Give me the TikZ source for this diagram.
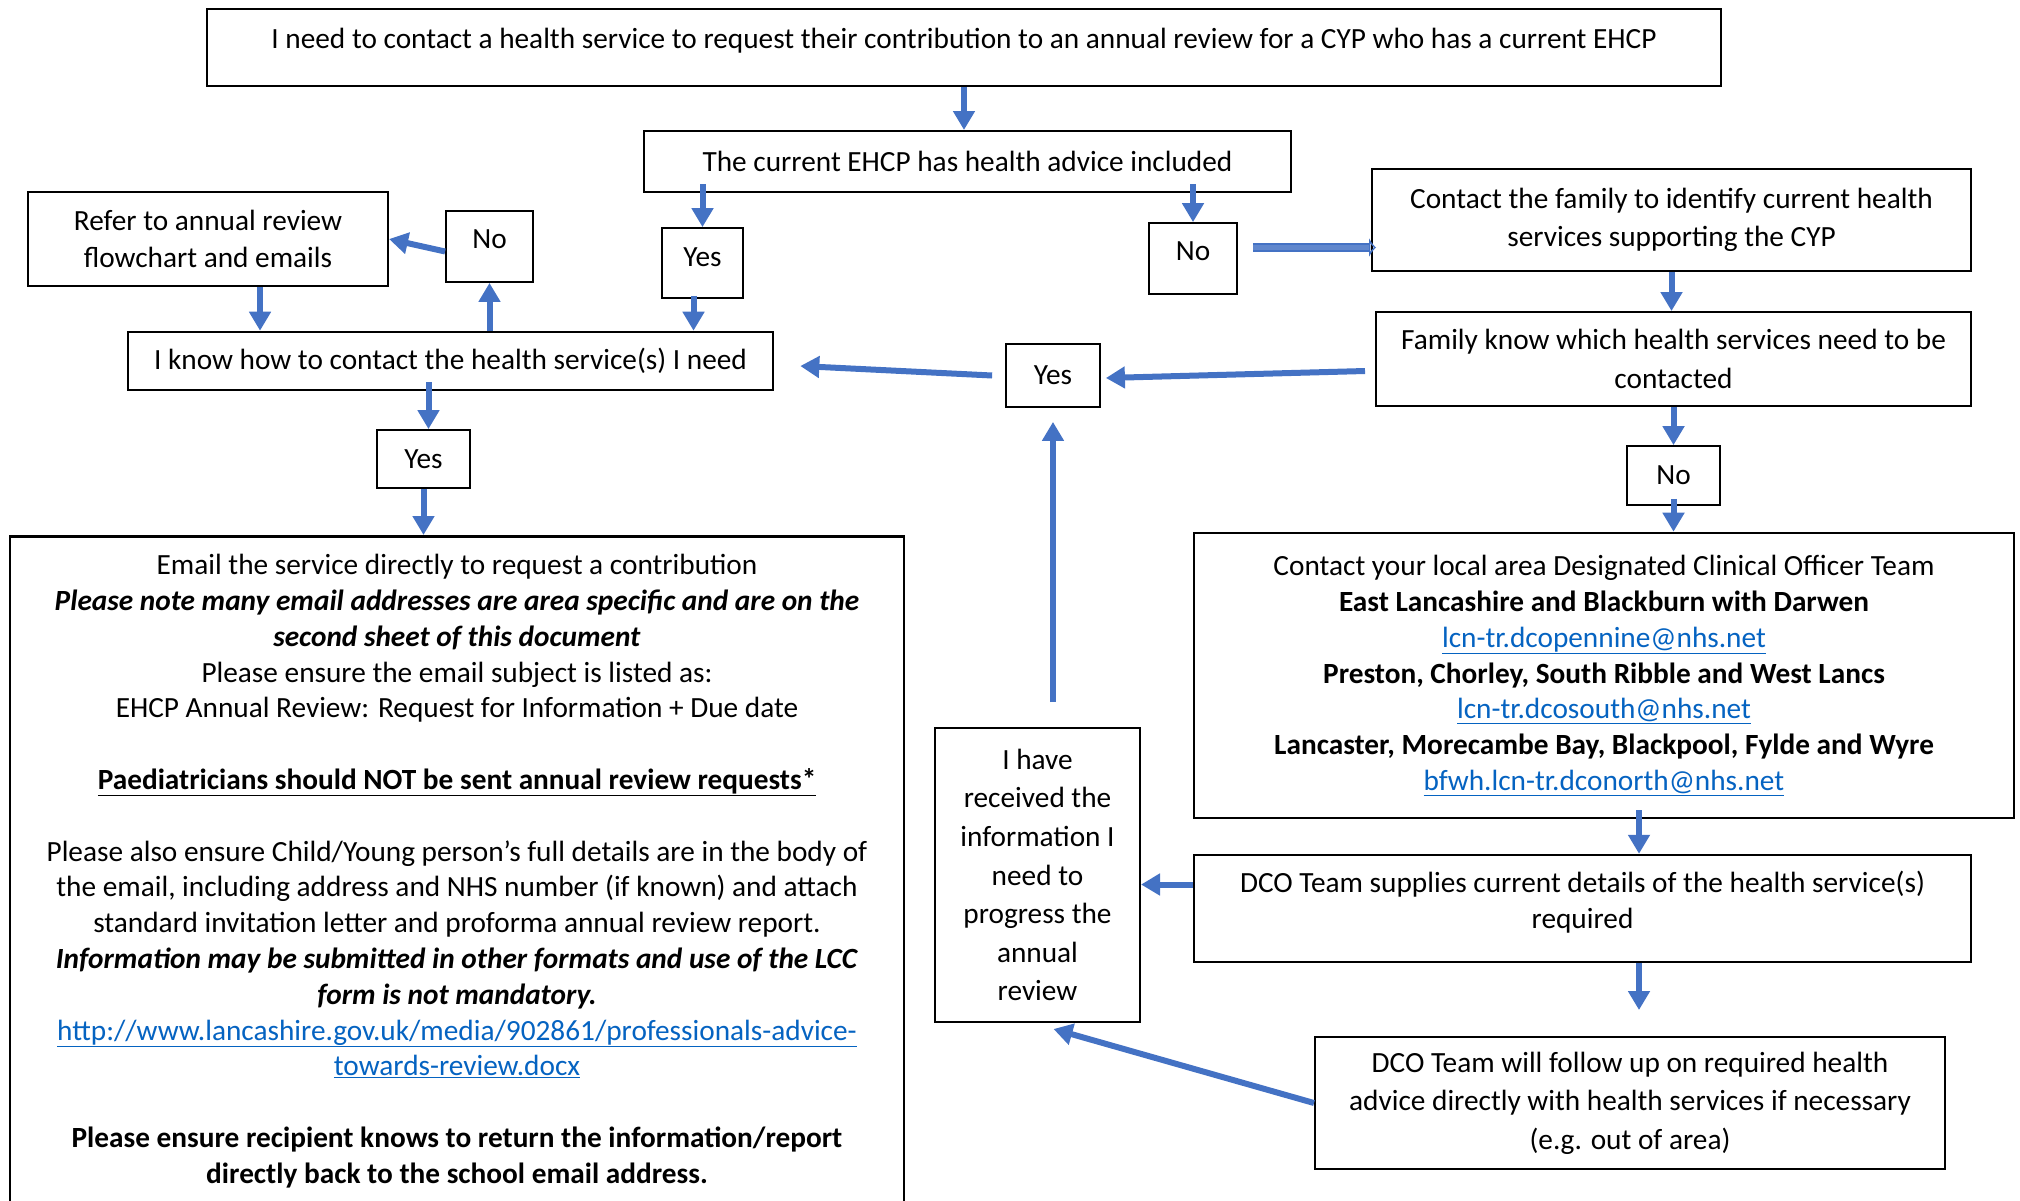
\documentclass[tikz,border=0pt]{standalone}
\usepackage{fontspec}
\setmainfont{Carlito}
\usepackage{tikz}
\usetikzlibrary{arrows.meta, positioning, shapes}
\definecolor{arrowblue}{HTML}{4472C4}
\definecolor{linkblue}{HTML}{0563C1}
\newcommand{\weblink}[1]{\textcolor{linkblue}{\underline{#1}}}
\tikzstyle{box} = [rectangle, draw=black, line width=2pt, align=center, inner sep=0pt, font=\fontsize{29.3}{35.8}\selectfont]
\tikzstyle{tallbox} = [box, font=\fontsize{29.3}{38.6}\selectfont]
\tikzstyle{answer} = [box, line width=1.8pt]
\tikzstyle{arrow} = [line width=6pt, draw=arrowblue, -{Triangle[width=21pt,length=19pt]}]
\tikzstyle{dblarrow} = [line width=1.6pt, draw=arrowblue, double=arrowblue!85!white, double distance=5.5pt, -{Latex[open,length=7pt,width=20pt]}, shorten >=10pt]

\begin{document}
\begin{tikzpicture}[x=1pt, y=-1pt]
	\useasboundingbox (0,0) rectangle (2020,1200);
	\node (top) [box, minimum width=1514pt, minimum height=77pt, text depth=19pt] at (964,47.5) {I need to contact a health service to request their contribution to an annual review for a CYP who has a current EHCP};
	\node (ehcp) [box, minimum width=647pt, minimum height=61pt] at (967.5,161.5) {The current EHCP has health advice included};
	\node (refer) [tallbox, font=\fontsize{29.3}{37}\selectfont, minimum width=360pt, minimum height=94pt] at (208,239) {Refer to annual review\\flowchart and emails};
	\node (no1) [answer, minimum width=87pt, minimum height=71pt, text depth=14pt] at (489.5,246.5) {No};
	\node (yes1) [answer, minimum width=81pt, minimum height=70pt, text depth=12pt] at (702.5,263) {Yes};
	\node (no2) [answer, minimum width=88pt, minimum height=71pt, text depth=14pt] at (1193,258.5) {No};
	\node (family) [tallbox, font=\fontsize{29.3}{37.5}\selectfont, minimum width=599pt, minimum height=102pt] at (1671.5,220) {Contact the family to identify current health\\services supporting the CYP};
	\node (know) [box, line width=2.6pt, minimum width=645pt, minimum height=58pt] at (450.5,361) {I know how to contact the health service(s) I need};
	\node (yes2) [answer, minimum width=94pt, minimum height=63pt] at (1053,375.5) {Yes};
	\node (fknow) [tallbox, minimum width=595pt, minimum height=94pt] at (1673.5,359) {Family know which health services need to be\\contacted};
	\node (yes3) [answer, minimum width=93pt, minimum height=58pt] at (423.5,459) {Yes};
	\node (no3) [answer, minimum width=93pt, minimum height=59pt] at (1673.5,475.5) {No};
	\node (email) [box, line width=2.6pt, anchor=north, minimum width=894pt, inner ysep=18pt] at (457,535) {Email the service directly to request a contribution\\
		\textbf{\textit{Please note many email addresses are area specific and are on the}}\\
		\textbf{\textit{second sheet of this document}}\\
		Please ensure the email subject is listed as:\\
		EHCP Annual Review: Request for Information + Due date\\[35.8pt]
		\textbf{\underline{Paediatricians should NOT be sent annual review requests*}}\\[35.8pt]
		Please also ensure Child/Young person’s full details are in the body of\\
		the email, including address and NHS number (if known) and attach\\
		standard invitation letter and proforma annual review report.\\
		\textbf{\textit{Information may be submitted in other formats and use of the LCC}}\\
		\textbf{\textit{form is not mandatory.}}\\
		\weblink{http://www.lancashire.gov.uk/media/902861/professionals-advice-}\\
		\weblink{towards-review.docx}\\[35.8pt]
		\textbf{Please ensure recipient knows to return the information/report}\\
		\textbf{directly back to the school email address.}};
	\node (dco) [box, line width=2.6pt, minimum width=820pt, minimum height=285pt] at (1604,675.5) {Contact your local area Designated Clinical Officer Team\\
		\textbf{East Lancashire and Blackburn with Darwen}\\
		\weblink{lcn-tr.dcopennine@nhs.net}\\
		\textbf{Preston, Chorley, South Ribble and West Lancs}\\
		\weblink{lcn-tr.dcosouth@nhs.net}\\
		\textbf{Lancaster, Morecambe Bay, Blackpool, Fylde and Wyre}\\
		\weblink{bfwh.lcn-tr.dconorth@nhs.net}};
	\node (supplies) [box, line width=2.4pt, minimum width=777pt, minimum height=107pt, text depth=17pt] at (1582.5,908.5) {DCO Team supplies current details of the health service(s)\\required};
	\node (follow) [tallbox, minimum width=630pt, minimum height=132pt] at (1630,1103) {DCO Team will follow up on required health\\advice directly with health services if necessary\\(e.g. out of area)};
	\node (received) [tallbox, minimum width=205pt, minimum height=294pt] at (1037.5,875) {I have\\received the\\information I\\need to\\progress the\\annual\\review};
	\coordinate (gap) at (1639,1010);

	% Draw edges
	\path [arrow] (top.south) -- (top.south |- ehcp.north);
	\path [arrow] ([yshift=9pt]ehcp.south -| yes1.north) -- (yes1.north);
	\path [arrow] ([yshift=9pt]ehcp.south -| no2.north) -- (no2.north);
	\path [dblarrow] ([xshift=15pt,yshift=11pt]no2.east) -- ([xshift=15pt,yshift=11pt]no2.east -| family.west);
	\path [arrow] (family.south) -- (family.south |- fknow.north);
	\path [arrow] ([xshift=-10pt,yshift=-12pt]fknow.west) -- ([xshift=5pt,yshift=-2.5pt]yes2.east);
	\path [arrow] ([xshift=-13pt]yes2.west) -- ([xshift=26pt,yshift=-5pt]know.east);
	\path [arrow] ([yshift=25pt]received.north -| yes2.south) -- ([yshift=-14pt]yes2.south);
	\path [arrow] (fknow.south) -- (no3.north);
	\path [arrow] ([yshift=7pt]no3.south) -- (no3.south |- dco.north);
	\path [arrow] ([xshift=35pt,yshift=9pt]dco.south) -- ([xshift=35pt]dco.south |- supplies.north);
	\path [arrow] (supplies.south -| gap) -- (gap);
	\path [arrow] ([yshift=24pt]supplies.west) -- ([yshift=24pt]supplies.west -| received.east);
	\path [arrow] (follow.west) -- ([xshift=16pt,yshift=-6pt]received.south);
	\path [arrow] ([xshift=52pt]refer.south) -- ([xshift=52pt]refer.south |- know.north);
	\path [arrow] (know.north -| no1.south) -- (no1.south);
	\path [arrow] ([yshift=-5pt]no1.west) -- (refer.east);
	\path [arrow] ([xshift=-9pt,yshift=3pt]yes1.south) -- ([xshift=-9pt]yes1.south |- know.north);
	\path [arrow] ([xshift=-22pt,yshift=9pt]know.south) -- ([xshift=-22pt]know.south |- yes3.north);
	\path [arrow] (yes3.south) -- (yes3.south |- email.north);
\end{tikzpicture}
\end{document}
